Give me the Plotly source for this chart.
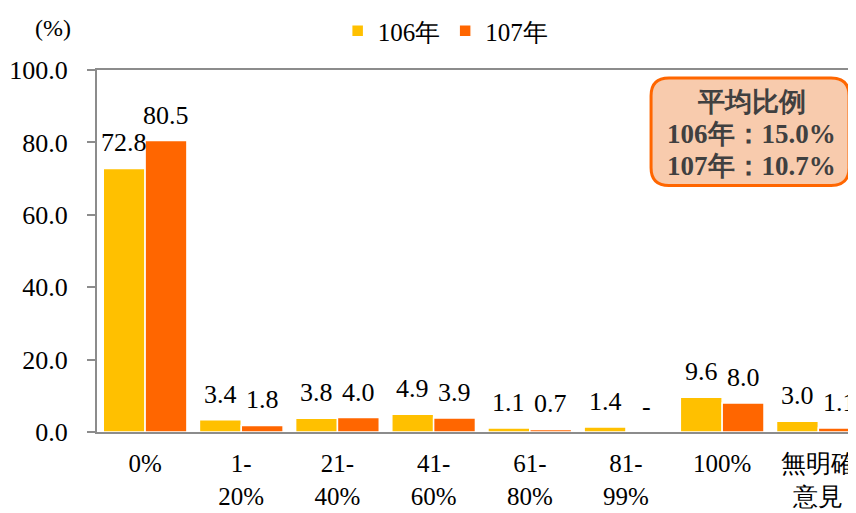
import plotly.graph_objects as go

categories = ["0%", "1-<br>20%", "21-<br>40%", "41-<br>60%", "61-<br>80%", "81-<br>99%", "100%", "無明確<br>意見"]
vals_106 = [72.8, 3.4, 3.8, 4.9, 1.1, 1.4, 9.6, 3.0]
vals_107 = [80.5, 1.8, 4.0, 3.9, 0.7, 0.0, 8.0, 1.1]
text_106 = ["72.8", "3.4", "3.8", "4.9", "1.1", "1.4", "9.6", "3.0"]
text_107 = ["80.5", "1.8", "4.0", "3.9", "0.7", "-", "8.0", "1.1"]
series_names = ["106年", "107年"]
y_ticks = [0, 20, 40, 60, 80, 100]
avg_lines = ["平均比例", "106年：15.0%", "107年：10.7%"]

FONT = "Liberation Serif"
OFF = 8  # default page body margin
W, H = 856 - OFF, 513 - OFF
L, T = 97 - OFF, 65 - OFF
PB = 432  # page y of zero line
B = 513 - PB
plot_w = W - L
plot_h = H - T - B
x0, x1 = -0.5, 7.35
ppu_x = plot_w / (x1 - x0)
ppu_y = plot_h / 100.0
BARGAP = 0.13
half = (1 - BARGAP) / 4

def px2data(px, py):
    return (px - 97) / ppu_x + x0, (PB - py) / ppu_y

fig = go.Figure()
for k, (name, vals, txt, col) in enumerate([(series_names[0], vals_106, text_106, "#FFC000"),
                                            (series_names[1], vals_107, text_107, "#FF6600")]):
    fig.add_trace(go.Bar(
        x=list(range(len(categories))), y=vals, name=name,
        marker=dict(color=col, line=dict(color="#FFFFFF", width=1.5)),
    ))
    sign = -1 if k == 0 else 1
    for i, (v, t) in enumerate(zip(vals, txt)):
        fig.add_annotation(x=i + sign * half, y=v, xref="x", yref="y", text=t,
                           showarrow=False, xanchor="center", yanchor="bottom", yshift=9,
                           font=dict(family=FONT, size=26, color="#000000"))

bx0, by0, bx1, by1, r = 654, 73, 853, 182, 18
def P(px, py):
    x, y = px2data(px, py)
    return f"{x:.5f},{y:.5f}"
path = (f"M {P(bx0+r, by0)} L {P(bx1-r, by0)} Q {P(bx1, by0)} {P(bx1, by0+r)} "
        f"L {P(bx1, by1-r)} Q {P(bx1, by1)} {P(bx1-r, by1)} "
        f"L {P(bx0+r, by1)} Q {P(bx0, by1)} {P(bx0, by1-r)} "
        f"L {P(bx0, by0+r)} Q {P(bx0, by0)} {P(bx0+r, by0)} Z")
fig.add_shape(type="path", path=path, xref="x", yref="y",
              fillcolor="#F8CBAD", line=dict(color="#FF6600", width=3), layer="above")

for line, py in zip(avg_lines, [97, 130, 162]):
    ax, ay = px2data(755, py)
    fig.add_annotation(x=ax, y=ay, xref="x", yref="y", text=f"<b>{line}</b>",
                       showarrow=False, xanchor="center", yanchor="middle",
                       font=dict(family=FONT, size=27, color="#404040"))

fig.add_annotation(x=(53 - 97) / plot_w, y=(PB - 22) / plot_h, xref="paper", yref="paper",
                   text="(%)", showarrow=False, xanchor="center", yanchor="middle",
                   font=dict(family=FONT, size=24, color="#000000"))

fig.update_layout(
    width=W, height=H,
    margin=dict(l=L, r=0, t=T, b=B),
    paper_bgcolor="white", plot_bgcolor="white",
    barmode="group", bargap=BARGAP, bargroupgap=0,
    font=dict(family=FONT, size=24, color="#000000"),
    showlegend=True,
    legend=dict(orientation="h", x=(447 - 97) / plot_w, xanchor="center",
                y=(PB - 25) / plot_h, yanchor="middle",
                font=dict(family=FONT, size=25, color="#000000"),
                bgcolor="rgba(0,0,0,0)"),
    xaxis=dict(range=[x0, x1], tickmode="array", tickvals=list(range(len(categories))),
               ticktext=categories, showline=True, linecolor="#8C8C8C", linewidth=2,
               mirror=True, ticks="", showgrid=False, zeroline=False,
               ticklabeloverflow="allow", ticklabelstandoff=8,
               tickfont=dict(family=FONT, size=25)),
    yaxis=dict(range=[0, 100], tickvals=y_ticks, ticktext=[f"{v:.1f}" for v in y_ticks],
               showline=True, linecolor="#8C8C8C", linewidth=2, ticks="outside",
               ticklen=8, tickcolor="#8C8C8C", tickwidth=2, showgrid=False, zeroline=False,
               ticklabelstandoff=14,
               tickfont=dict(family=FONT, size=26)),
)

fig.write_html("out.html")
